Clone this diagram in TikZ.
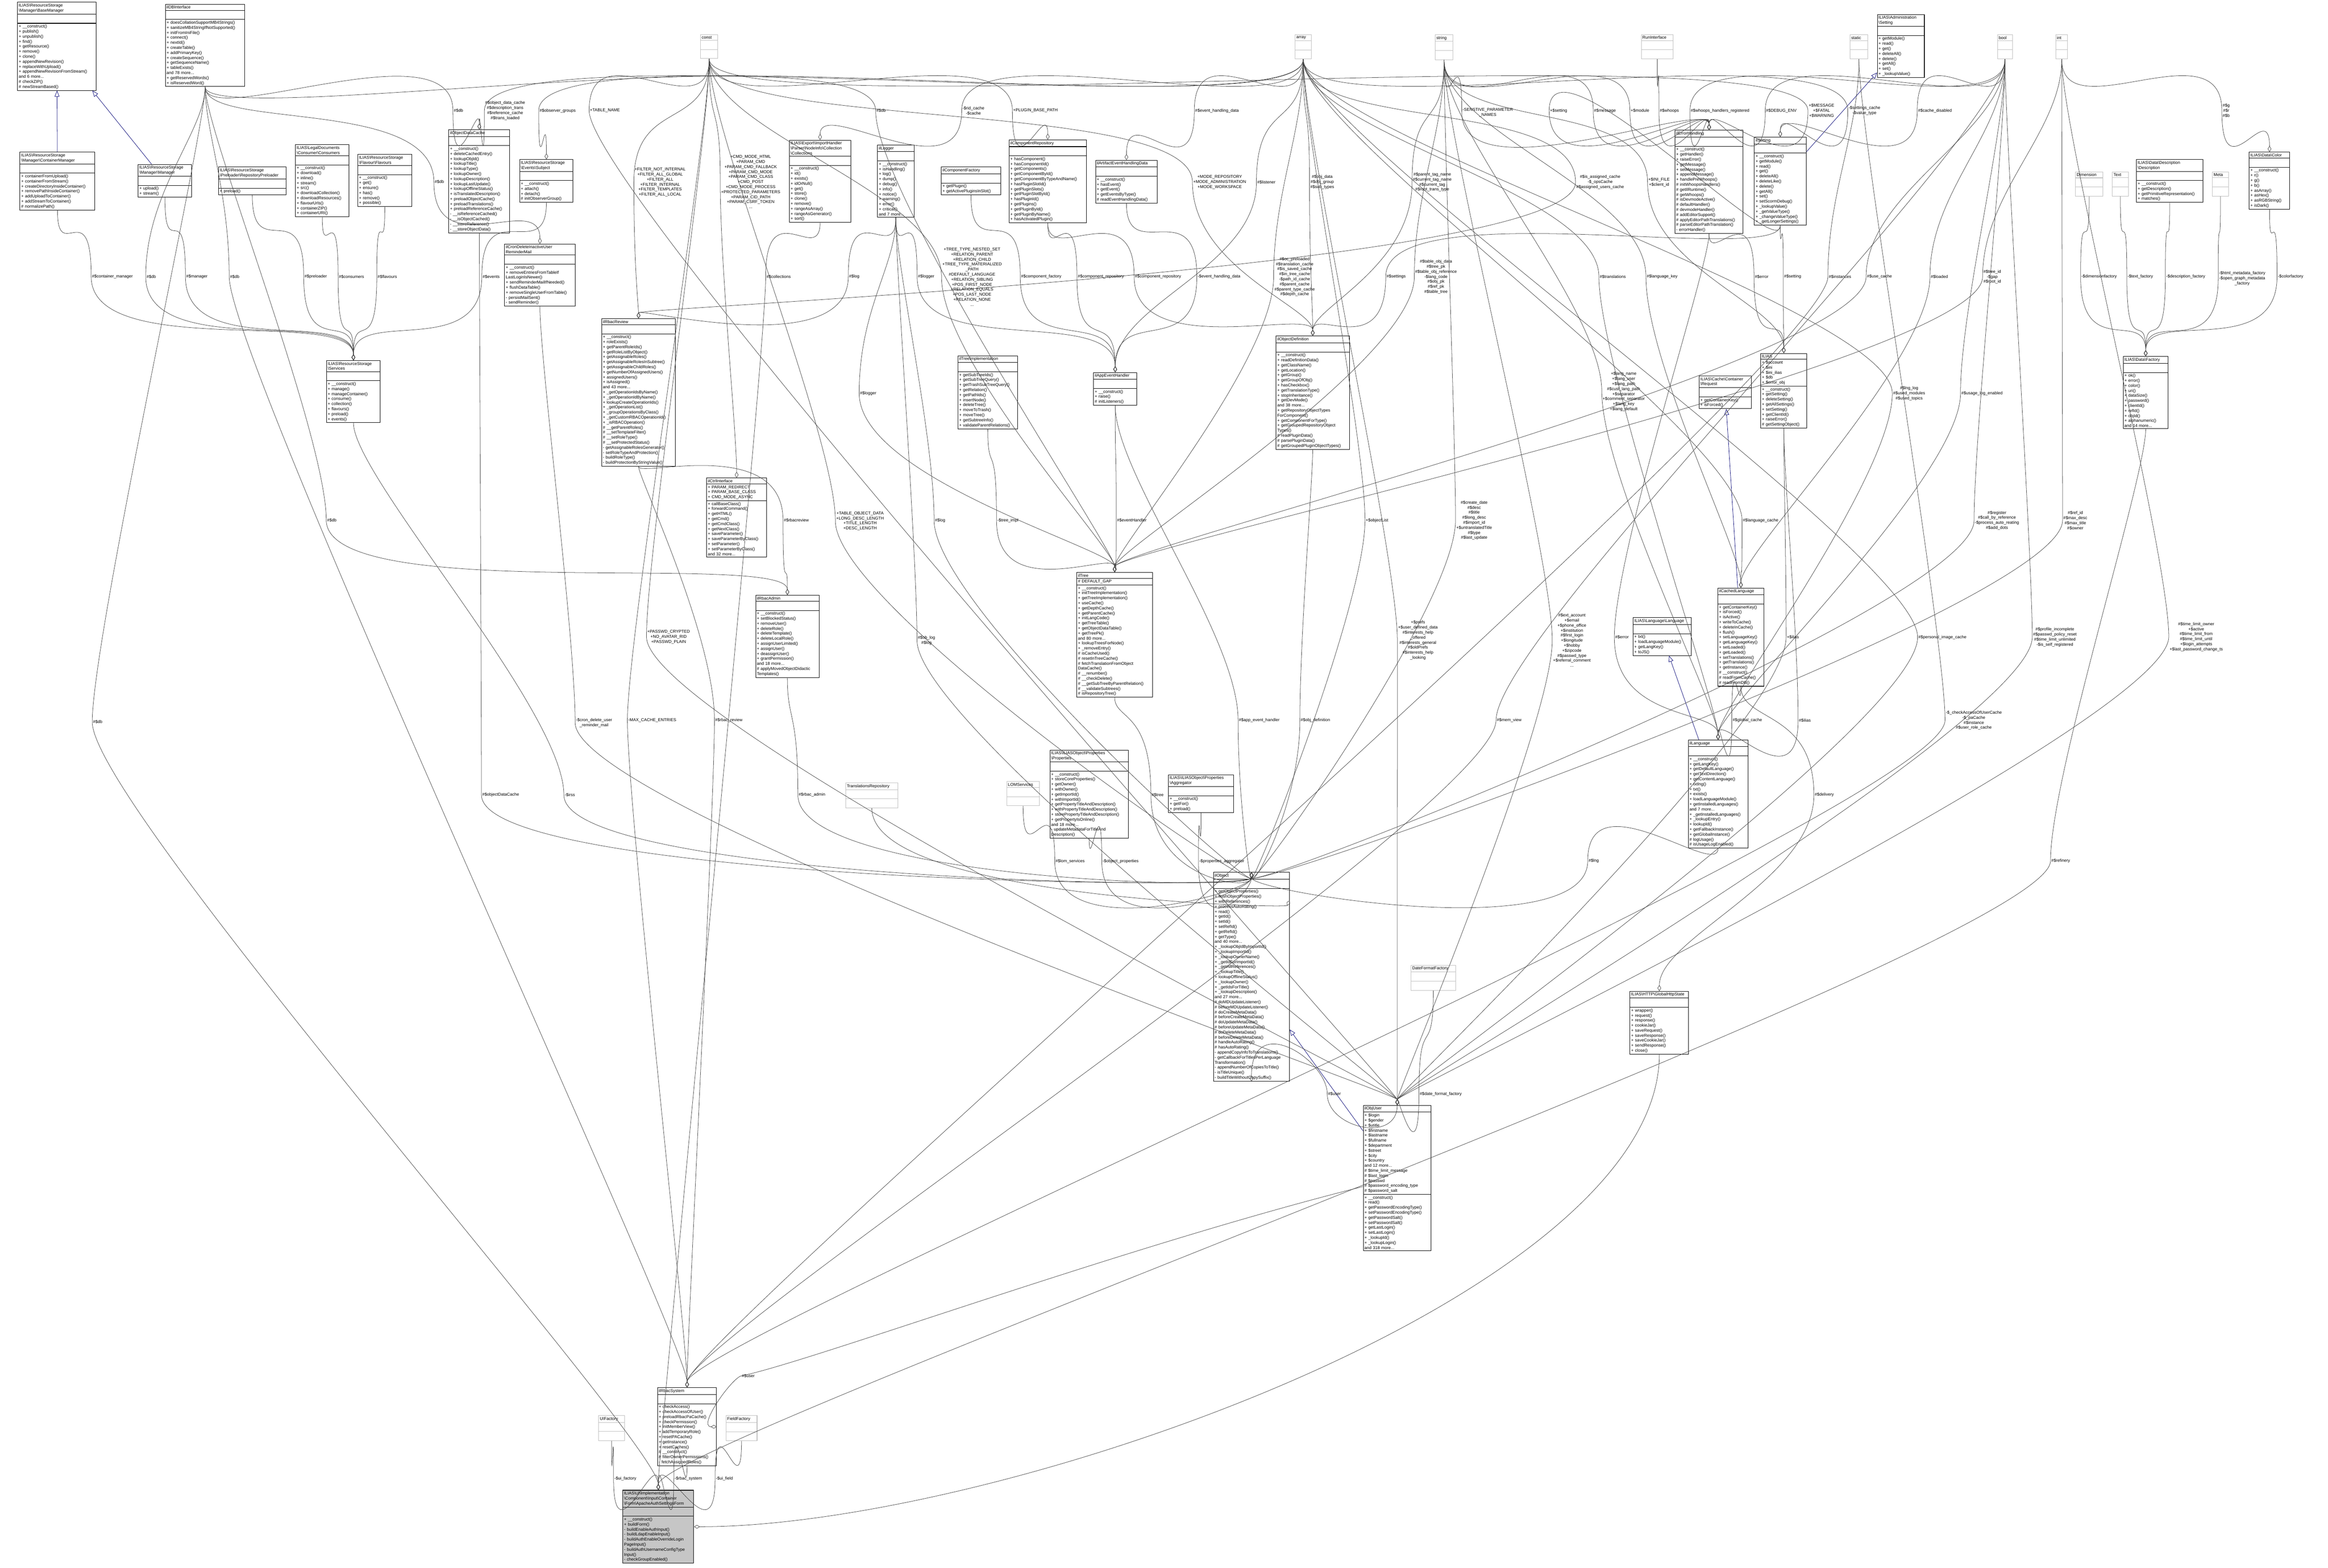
\documentclass[tikz,border=0pt]{standalone}
\usepackage{fontspec}
\setmainfont{Liberation Sans}
\usetikzlibrary{shapes.multipart,arrows.meta}

\newcommand{\bs}{\textbackslash{}}
% aggregation: label node, then a curve from the member type through the label to the owner
\newcommand{\conn}[6]{%
  \node[lbl] (#3) at (#4,#5) {#6};
  \draw[agg] (#1) .. controls +(0,-2.5) and +(0,2.5) .. (#3.west)
    .. controls +(0,-2.5) and +(0,2.5) .. (#2);}
\newcommand{\connup}[6]{%
  \node[lbl] (#3) at (#4,#5) {#6};
  \draw[agg] (#1) .. controls +(0,1) and +(0,-1) .. (#3.west)
    .. controls +(0,1) and +(0,-1) .. (#2);}

\tikzset{
  cls/.style={rectangle split, rectangle split parts=3, draw, anchor=north west,
    font=\fontsize{3.5}{4.2}\selectfont, inner sep=1pt,
    rectangle split part align={center,left,left},
    rectangle split empty part height=3pt},
  ghost/.style={cls, draw=gray!50, rectangle split empty part height=5pt},
  focus/.style={cls, fill=gray!45},
  lbl/.style={font=\fontsize{3.5}{4.2}\selectfont, align=center, inner sep=0.5pt},
  agg/.style={draw=black!75, line width=0.3pt, -{Diamond[open,length=5pt,width=3pt]}},
  inh/.style={draw=blue!45!black, line width=0.3pt, -{Triangle[open,length=5pt,width=4pt]}}
}

\begin{document}
\begin{tikzpicture}
  \useasboundingbox (0,0) rectangle (68.35,-46.04);

  % resource storage
  \node[cls, text width=2.23cm] (basemgr) at (0.51,-0.06) {ILIAS\bs ResourceStorage\\\bs Manager\bs BaseManager
    \nodepart{three} + \_\_construct()\\+ publish()\\+ unpublish()\\+ find()\\+ getResource()\\+ remove()\\+ clone()\\+ appendNewRevision()\\+ replaceWithUpload()\\+ appendNewRevisionFromStream()\\and 6 more...\\\# checkZIP()\\\# newStreamBased()};
  \node[cls, text width=2.26cm] (dbi) at (4.85,-0.12) {ilDBInterface
    \nodepart{three} + doesCollationSupportMB4Strings()\\+ sanitizeMB4StringIfNotSupported()\\+ initFromIniFile()\\+ connect()\\+ nextId()\\+ createTable()\\+ addPrimaryKey()\\+ createSequence()\\+ getSequenceName()\\+ tableExists()\\and 78 more...\\+ getReservedWords()\\+ isReservedWord()};
  \node[cls, text width=2.13cm] (contmgr) at (0.58,-4.46) {ILIAS\bs ResourceStorage\\\bs Manager\bs ContainerManager
    \nodepart{three} + containerFromUpload()\\+ containerFromStream()\\+ createDirectoryInsideContainer()\\+ removePathInsideContainer()\\+ addUploadToContainer()\\+ addStreamToContainer()\\\# normalizePath()};
  \node[cls, text width=1.5cm] (mgr) at (4.05,-4.82) {ILIAS\bs ResourceStorage\\\bs Manager\bs Manager
    \nodepart{three} + upload()\\+ stream()};
  \node[cls, text width=1.91cm] (preloader) at (6.41,-4.90) {ILIAS\bs ResourceStorage\\\bs Preloader\bs RepositoryPreloader
    \nodepart{three} + preload()};
  \node[cls, text width=1.5cm] (consumers) at (8.67,-4.24) {ILIAS\bs LegalDocuments\\\bs Consumer\bs Consumers
    \nodepart{three} + \_\_construct()\\+ download()\\+ inline()\\+ stream()\\+ src()\\+ downloadCollection()\\+ downloadResources()\\+ flavourUrls()\\+ containerZIP()\\+ containerURI()};
  \node[cls, text width=1.51cm] (flavours) at (10.50,-4.53) {ILIAS\bs ResourceStorage\\\bs Flavour\bs Flavours
    \nodepart{three} + \_\_construct()\\+ get()\\+ ensure()\\+ has()\\+ remove()\\+ possible()};
  \node[cls, text width=1.72cm] (objcache) at (13.17,-3.80) {ilObjectDataCache
    \nodepart{three} + \_\_construct()\\+ deleteCachedEntry()\\+ lookupObjId()\\+ lookupTitle()\\+ lookupType()\\+ lookupOwner()\\+ lookupDescription()\\+ lookupLastUpdate()\\+ lookupOfflineStatus()\\+ isTranslatedDescription()\\+ preloadObjectCache()\\+ preloadTranslations()\\+ preloadReferenceCache()\\- \_\_isReferenceCached()\\- \_\_isObjectCached()\\- \_\_storeReference()\\- \_\_storeObjectData()};
  \node[cls, text width=1.5cm] (subject) at (15.25,-4.68) {ILIAS\bs ResourceStorage\\\bs Events\bs Subject
    \nodepart{three} + \_\_construct()\\+ attach()\\+ detach()\\\# initObserverGroup()};
  \node[cls, text width=2.0cm] (cronmail) at (14.81,-7.16) {ilCronDeleteInactiveUser\\ReminderMail
    \nodepart{three} + \_\_construct()\\+ removeEntriesFromTableIf\\LastLoginIsNewer()\\+ sendReminderMailIfNeeded()\\+ flushDataTable()\\+ removeSingleUserFromTable()\\- persistMailSent()\\- sendReminder()};
  \node[cls, text width=1.51cm] (services) at (9.58,-10.58) {ILIAS\bs ResourceStorage\\\bs Services
    \nodepart{three} + \_\_construct()\\+ manage()\\+ manageContainer()\\+ consume()\\+ collection()\\+ flavours()\\+ preload()\\+ events()};

  % plain types
  \node[ghost, text width=0.44cm] (const) at (20.56,-1.01) {const};
  \node[ghost, text width=0.40cm] (array) at (38.02,-1.01) {array};
  \node[ghost, text width=0.45cm] (string) at (42.13,-1.01) {string};
  \node[ghost, text width=0.87cm] (runif) at (48.18,-1.01) {RunInterface};
  \node[ghost, text width=0.45cm] (static) at (54.31,-1.01) {static};
  \node[ghost, text width=0.37cm] (bool) at (58.64,-1.01) {bool};
  \node[ghost, text width=0.28cm] (int) at (60.35,-1.01) {int};
  \node[ghost, text width=0.73cm] (dimension) at (60.93,-5.04) {Dimension};
  \node[ghost, text width=0.40cm] (text) at (62.01,-5.04) {Text};
  \node[ghost, text width=0.40cm] (meta) at (64.95,-5.04) {Meta};
  \node[ghost, text width=1.47cm] (translrepo) at (24.82,-22.98) {TranslationsRepository};
  \node[ghost, text width=0.89cm] (lomservices) at (29.55,-22.94) {LOMServices};
  \node[ghost, text width=1.24cm] (datefmt) at (41.42,-28.34) {DateFormatFactory};
  \node[ghost, text width=0.69cm] (uifactory) at (17.57,-41.56) {UIFactory};
  \node[ghost, text width=0.84cm] (fieldfactory) at (21.31,-41.56) {FieldFactory};

  % middle column
  \node[cls, text width=1.73cm] (collections) at (23.17,-4.11) {ILIAS\bs Export\bs ImportHandler\\\bs Parser\bs NodeInfo\bs Collection\\\bs Collections
    \nodepart{three} + \_\_construct()\\+ id()\\+ exists()\\+ idOrNull()\\+ get()\\+ store()\\+ clone()\\+ remove()\\+ rangeAsArray()\\+ rangeAsGenerator()\\+ sort()};
  \node[cls, text width=1.0cm] (logger) at (25.76,-4.25) {ilLogger
    \nodepart{three} + \_\_construct()\\+ isHandling()\\+ log()\\+ dump()\\+ debug()\\+ info()\\+ notice()\\+ warning()\\+ error()\\+ critical()\\and 7 more...};
  \node[cls, text width=1.67cm] (compfactory) at (27.63,-4.90) {ilComponentFactory
    \nodepart{three} + getPlugin()\\+ getActivePluginsInSlot()};
  \node[cls, text width=2.2cm] (comprepo) at (29.62,-4.10) {ilComponentRepository
    \nodepart{three} + hasComponent()\\+ hasComponentId()\\+ getComponents()\\+ getComponentById()\\+ getComponentByTypeAndName()\\+ hasPluginSlotId()\\+ getPluginSlots()\\+ getPluginSlotById()\\+ hasPluginId()\\+ getPlugins()\\+ getPluginById()\\+ getPluginByName()\\+ hasActivatedPlugin()};
  \node[cls, text width=1.74cm] (artifact) at (32.16,-4.70) {ilArtifactEventHandlingData
    \nodepart{three} + \_\_construct()\\+ hasEvent()\\+ getEvent()\\+ getEventsByType()\\\# readEventHandlingData()};
  \node[cls, text width=2.09cm] (rbacreview) at (17.66,-9.35) {ilRbacReview
    \nodepart{three} + \_\_construct()\\+ roleExists()\\+ getParentRoleIds()\\+ getRoleListByObject()\\+ getAssignableRoles()\\+ getAssignableRolesInSubtree()\\+ getAssignableChildRoles()\\+ getNumberOfAssignedUsers()\\+ assignedUsers()\\+ isAssigned()\\and 43 more...\\+ \_getOperationIdsByName()\\+ \_getOperationIdByName()\\+ lookupCreateOperationIds()\\+ \_getOperationList()\\+ \_groupOperationsByClass()\\+ \_getCustomRBACOperationId()\\+ \_isRBACOperation()\\\# \_\_getParentRoles()\\\# \_\_setTemplateFilter()\\\# \_\_setRoleType()\\\# \_\_setProtectedStatus()\\- getAssignableRolesGenerator()\\- setRoleTypeAndProtection()\\- buildRoleType()\\- buildProtectionByStringValue()};
  \node[cls, text width=1.68cm] (treeimpl) at (28.12,-10.44) {ilTreeImplementation
    \nodepart{three} + getSubTreeIds()\\+ getSubTreeQuery()\\+ getTrashSubTreeQuery()\\+ getRelation()\\+ getPathIds()\\+ insertNode()\\+ deleteTree()\\+ moveToTrash()\\+ moveTree()\\+ getSubtreeInfo()\\+ validateParentRelations()};
  \node[cls, text width=1.2cm] (appevent) at (32.10,-10.93) {ilAppEventHandler
    \nodepart{three} + \_\_construct()\\+ raise()\\\# initListeners()};
  \node[cls, text width=1.69cm] (ctrl) at (20.74,-14.03) {ilCtrlInterface
    \nodepart{two} + PARAM\_REDIRECT\\+ PARAM\_BASE\_CLASS\\+ CMD\_MODE\_ASYNC
    \nodepart{three} + callBaseClass()\\+ forwardCommand()\\+ getHTML()\\+ getCmd()\\+ getCmdClass()\\+ getNextClass()\\+ saveParameter()\\+ saveParameterByClass()\\+ setParameter()\\+ setParameterByClass()\\and 32 more...};
  \node[cls, text width=1.79cm] (rbacadmin) at (22.18,-17.47) {ilRbacAdmin
    \nodepart{three} + \_\_construct()\\+ setBlockedStatus()\\+ removeUser()\\+ deleteRole()\\+ deleteTemplate()\\+ deleteLocalRole()\\+ assignUserLimited()\\+ assignUser()\\+ deassignUser()\\+ grantPermission()\\and 18 more...\\\# applyMovedObjectDidactic\\Templates()};
  \node[cls, text width=2.08cm] (objdef) at (37.46,-9.86) {ilObjectDefinition
    \nodepart{three} + \_\_construct()\\+ readDefinitionData()\\+ getClassName()\\+ getLocation()\\+ getGroup()\\+ getGroupOfObj()\\+ hasCheckbox()\\+ getTranslationType()\\+ stopInheritance()\\+ getDevMode()\\and 38 more...\\+ getRepositoryObjectTypes\\ForComponent()\\+ getComponentForType()\\+ getGroupedRepositoryObject\\Types()\\\# readPluginData()\\\# parsePluginData()\\\# getGroupedPluginObjectTypes()};
  \node[cls, text width=2.15cm] (tree) at (31.61,-16.80) {ilTree
    \nodepart{two} \# DEFAULT\_GAP
    \nodepart{three} + \_\_construct()\\+ initTreeImplementation()\\+ getTreeImplementation()\\+ useCache()\\+ getDepthCache()\\+ getParentCache()\\+ initLangCode()\\+ getTreeTable()\\+ getObjectDataTable()\\+ getTreePk()\\and 80 more...\\+ lookupTreesForNode()\\+ \_removeEntry()\\\# isCacheUsed()\\\# resetInTreeCache()\\\# fetchTranslationFromObject\\DataCache()\\\# \_\_renumber()\\\# \_\_checkDelete()\\\# \_\_getSubTreeByParentRelation()\\\# \_\_validateSubtrees()\\\# isRepositoryTree()};
  \node[cls, text width=2.23cm] (props) at (30.82,-22.02) {ILIAS\bs ILIASObject\bs Properties\\\bs Properties
    \nodepart{three} + \_\_construct()\\+ storeCoreProperties()\\+ getOwner()\\+ withOwner()\\+ getImportId()\\+ withImportId()\\+ getPropertyTitleAndDescription()\\+ withPropertyTitleAndDescription()\\+ storePropertyTitleAndDescription()\\+ getPropertyIsOnline()\\and 18 more...\\- updateMetadataForTitleAnd\\Description()};
  \node[cls, text width=1.84cm] (aggregator) at (34.30,-22.74) {ILIAS\bs ILIASObject\bs Properties\\\bs Aggregator
    \nodepart{three} + \_\_construct()\\+ getFor()\\+ preload()};
  \node[cls, text width=2.16cm] (ilobject) at (35.62,-25.61) {ilObject
    \nodepart{three} + getObjectProperties()\\+ flushObjectProperties()\\+ withReferences()\\+ processAutoRating()\\+ read()\\+ getId()\\+ setId()\\+ setRefId()\\+ getRefId()\\+ getType()\\and 40 more...\\+ \_lookupObjIdByImportId()\\+ \_lookupImportId()\\+ \_lookupOwnerName()\\+ \_getIdForImportId()\\+ \_getAllReferences()\\+ \_lookupTitle()\\+ lookupOfflineStatus()\\+ \_lookupOwner()\\+ \_getIdsForTitle()\\+ \_lookupDescription()\\and 27 more...\\\# doMDUpdateListener()\\\# beforeMDUpdateListener()\\\# doCreateMetaData()\\\# beforeCreateMetaData()\\\# doUpdateMetaData()\\\# beforeUpdateMetaData()\\\# doDeleteMetaData()\\\# beforeDeleteMetaData()\\\# handleAutoRating()\\\# hasAutoRating()\\- appendCopyInfoToTranslations()\\- getCallbackForTitlesPerLanguage\\Transformation()\\- appendNumberOfCopiesToTitle()\\- isTitleUnique()\\- buildTitleWithoutCopySuffix()};
  \node[cls, text width=1.92cm] (objuser) at (40.02,-32.45) {ilObjUser
    \nodepart{two} + \$login\\+ \$gender\\+ \$utitle\\+ \$firstname\\+ \$lastname\\+ \$fullname\\+ \$department\\+ \$street\\+ \$city\\+ \$country\\and 12 more...\\\# \$time\_limit\_message\\\# \$last\_login\\\# \$passwd\\\# \$password\_encoding\_type\\\# \$password\_salt
    \nodepart{three} + \_\_construct()\\+ read()\\+ getPasswordEncodingType()\\+ setPasswordEncodingType()\\+ getPasswordSalt()\\+ setPasswordSalt()\\+ getLastLogin()\\+ setLastLogin()\\+ \_lookupId()\\+ \_lookupLogin()\\and 318 more...};

  % right part
  \node[cls, text width=1.93cm] (errhandling) at (49.17,-3.82) {ilErrorHandling
    \nodepart{three} + \_\_construct()\\+ getHandler()\\+ raiseError()\\+ getMessage()\\+ setMessage()\\+ appendMessage()\\+ handlePreWhoops()\\\# initWhoopsHandlers()\\\# getIlRuntime()\\\# getWhoops()\\\# isDevmodeActive()\\\# defaultHandler()\\\# devmodeHandler()\\\# addEditorSupport()\\\# applyEditorPathTranslations()\\\# parseEditorPathTranslation()\\- errorHandler()};
  \node[cls, text width=1.46cm] (cachereq) at (49.88,-11.03) {ILIAS\bs Cache\bs Container\\\bs Request
    \nodepart{three} + getContainerKey()\\+ isForced()};
  \node[cls, text width=1.31cm] (adminsetting) at (55.11,-0.42) {ILIAS\bs Administration\\\bs Setting
    \nodepart{three} + getModule()\\+ read()\\+ get()\\+ deleteAll()\\+ delete()\\+ getAll()\\+ set()\\+ \_lookupValue()};
  \node[cls, text width=1.45cm] (ilsetting) at (51.50,-4.02) {ilSetting
    \nodepart{three} + \_\_construct()\\+ getModule()\\+ read()\\+ get()\\+ deleteAll()\\+ deleteLike()\\+ delete()\\+ getAll()\\+ set()\\+ setScormDebug()\\+ \_lookupValue()\\+ \_getValueType()\\+ \_changeValueType()\\+ \_getLongerSettings()};
  \node[cls, text width=1.28cm] (ilias) at (51.69,-10.37) {ILIAS
    \nodepart{two} + \$account\\+ \$ini\\+ \$ini\_ilias\\+ \$db\\+ \$error\_obj
    \nodepart{three} + \_\_construct()\\+ getSetting()\\+ deleteSetting()\\+ getAllSettings()\\+ setSetting()\\+ getClientId()\\+ raiseError()\\\# getSettingObject()};
  \node[cls, text width=1.88cm] (description) at (62.72,-4.68) {ILIAS\bs Data\bs Description\\\bs Description
    \nodepart{three} + \_\_construct()\\+ getDescription()\\+ getPrimitiveRepresentation()\\+ matches()};
  \node[cls, text width=1.12cm] (color) at (66.03,-4.46) {ILIAS\bs Data\bs Color
    \nodepart{three} + \_\_construct()\\+ r()\\+ g()\\+ b()\\+ asArray()\\+ asHex()\\+ asRGBString()\\+ isDark()};
  \node[cls, text width=1.25cm] (datafactory) at (62.33,-10.46) {ILIAS\bs Data\bs Factory
    \nodepart{three} + ok()\\+ error()\\+ color()\\+ uri()\\+ dataSize()\\+ password()\\+ clientId()\\+ refId()\\+ objId()\\+ alphanumeric()\\and 14 more...};
  \node[cls, text width=1.28cm] (cachedlang) at (50.43,-17.26) {ilCachedLanguage
    \nodepart{three} + getContainerKey()\\+ isForced()\\+ isActive()\\+ writeToCache()\\+ deleteInCache()\\+ flush()\\+ setLanguageKey()\\+ getLanguageKey()\\+ setLoaded()\\+ getLoaded()\\+ setTranslations()\\+ getTranslations()\\+ getInstance()\\\# \_\_construct()\\\# readFromCache()\\\# readFromDB()};
  \node[cls, text width=1.64cm] (langlang) at (47.94,-18.13) {ILIAS\bs Language\bs Language
    \nodepart{three} + txt()\\+ loadLanguageModule()\\+ getLangKey()\\+ toJS()};
  \node[cls, text width=1.68cm] (language) at (49.56,-21.72) {ilLanguage
    \nodepart{three} + \_\_construct()\\+ getLangKey()\\+ getDefaultLanguage()\\+ getTextDirection()\\+ getContentLanguage()\\+ txtlng()\\+ txt()\\+ exists()\\+ loadLanguageModule()\\+ getInstalledLanguages()\\and 7 more...\\+ \_getInstalledLanguages()\\+ \_lookupEntry()\\+ lookupId()\\+ getFallbackInstance()\\+ getGlobalInstance()\\\# logUsage()\\\# isUsageLogEnabled()};
  \node[cls, text width=1.65cm] (httpstate) at (47.85,-29.10) {ILIAS\bs HTTP\bs GlobalHttpState
    \nodepart{three} + wrapper()\\+ request()\\+ response()\\+ cookieJar()\\+ saveRequest()\\+ saveResponse()\\+ saveCookieJar()\\+ sendResponse()\\+ close()};

  % bottom
  \node[cls, text width=1.66cm] (rbacsystem) at (19.30,-40.74) {ilRbacSystem
    \nodepart{three} + checkAccess()\\+ checkAccessOfUser()\\+ preloadRbacPaCache()\\+ checkPermission()\\+ initMemberView()\\+ addTemporaryRole()\\+ resetPACache()\\+ getInstance()\\+ resetCaches()\\\# \_\_construct()\\\# filterOwnerPermissions()\\- fetchAssignedRoles()};
  \node[focus, text width=2.01cm] (form) at (18.28,-43.75) {ILIAS\bs UI\bs Implementation\\\bs Component\bs Input\bs Container\\\bs Form\bs ApacheAuthSettingsForm
    \nodepart{three} + \_\_construct()\\+ buildForm()\\- buildEnableAuthInput()\\- buildLdapEnableInput()\\- buildAuthEnableOverrideLogin\\PageInput()\\- buildAuthUsernameConfigType\\Input()\\- checkGroupEnabled()};

  % inheritance
  \draw[inh] (contmgr) -- (basemgr);
  \draw[inh] (mgr) -- (basemgr);
  \draw[inh] (ilsetting) -- (adminsetting);
  \draw[inh] (cachedlang) -- (cachereq);
  \draw[inh] (language) -- (langlang);
  \draw[inh] (objuser) -- (ilobject);

  % members, upper band
  \conn{contmgr}{services}{l1}{3.30}{-8.12}{\#\$container\_manager}
  \conn{dbi}{services}{l2}{4.44}{-8.12}{\#\$db}
  \conn{mgr}{services}{l3}{5.78}{-8.12}{\#\$manager}
  \conn{dbi}{rbacsystem}{l4}{6.89}{-8.12}{\#\$db}
  \conn{preloader}{services}{l5}{9.27}{-8.12}{\#\$preloader}
  \conn{consumers}{services}{l6}{10.32}{-8.12}{\#\$consumers}
  \conn{flavours}{services}{l7}{11.37}{-8.12}{\#\$flavours}
  \conn{subject}{services}{l8}{14.42}{-8.12}{\#\$events}
  \conn{dbi}{objcache}{l9}{13.46}{-3.25}{\#\$db}
  \conn{array}{objcache}{l10}{14.83}{-3.25}{\#\$object\_data\_cache\\\#\$description\_trans\\\#\$reference\_cache\\\#\$trans\_loaded}
  \conn{array}{subject}{l11}{16.37}{-3.25}{\#\$observer\_groups}
  \conn{dbi}{cronmail}{l12}{12.90}{-5.34}{\#\$db}
  \conn{const}{objuser}{l13}{17.76}{-3.25}{+TABLE\_NAME}
  \conn{const}{rbacreview}{l14}{19.38}{-5.35}{+FILTER\_NOT\_INTERNAL\\+FILTER\_ALL\_GLOBAL\\+FILTER\_ALL\\+FILTER\_INTERNAL\\+FILTER\_TEMPLATES\\+FILTER\_ALL\_LOCAL}
  \conn{const}{ctrl}{l15}{22.04}{-5.34}{+CMD\_MODE\_HTML\\+PARAM\_CMD\\+PARAM\_CMD\_FALLBACK\\+PARAM\_CMD\_MODE\\+PARAM\_CMD\_CLASS\\+CMD\_POST\\+CMD\_MODE\_PROCESS\\+PROTECTED\_PARAMETERS\\+PARAM\_CID\_PATH\\+PARAM\_CSRF\_TOKEN\\...}
  \conn{dbi}{tree}{l16}{25.87}{-3.25}{\#\$db}
  \conn{array}{collections}{l17}{28.58}{-3.25}{-\$rid\_cache\\-\$cache}
  \conn{const}{comprepo}{l18}{30.40}{-3.25}{+PLUGIN\_BASE\_PATH}
  \conn{array}{artifact}{l19}{35.73}{-3.25}{\#\$event\_handling\_data}
  \conn{string}{errhandling}{l20}{43.68}{-3.30}{-SENSTIVE\_PARAMETER\\\_NAMES}
  \conn{ilsetting}{errhandling}{l21}{45.76}{-3.25}{+\$setting}
  \conn{string}{errhandling}{l22}{47.12}{-3.25}{\#\$message}
  \conn{string}{errhandling}{l23}{48.15}{-3.25}{+\$module}
  \conn{runif}{errhandling}{l24}{49.01}{-3.25}{\#\$whoops}
  \conn{bool}{errhandling}{l25}{50.50}{-3.25}{\#\$whoops\_handlers\_registered}
  \conn{bool}{errhandling}{l26}{52.30}{-3.25}{\#\$DEBUG\_ENV}
  \conn{const}{errhandling}{l27}{53.48}{-3.25}{+\$MESSAGE\\+\$FATAL\\+\$WARNING}
  \conn{array}{ilsetting}{l28}{54.74}{-3.25}{-\$settings\_cache\\-\$value\_type}
  \conn{bool}{ilsetting}{l29}{56.81}{-3.25}{\#\$cache\_disabled}
  \conn{int}{color}{l30}{65.36}{-3.25}{\#\$g\\\#\$r\\\#\$b}

  % members, second band
  \conn{const}{objdef}{l31}{35.81}{-5.35}{+MODE\_REPOSITORY\\+MODE\_ADMINISTRATION\\+MODE\_WORKSPACE}
  \conn{array}{appevent}{l32}{37.18}{-5.35}{\#\$listener}
  \conn{array}{objdef}{l33}{38.82}{-5.35}{\#\$obj\_data\\\#\$obj\_group\\\#\$sub\_types}
  \conn{string}{objdef}{l34}{42.05}{-5.35}{\#\$parent\_tag\_name\\\#\$current\_tag\_name\\\#\$current\_tag\\\#\$root\_trans\_type}
  \conn{array}{rbacreview}{l35}{46.98}{-5.35}{\#\$is\_assigned\_cache\\-\$\_opsCache\\\#\$assigned\_users\_cache}
  \conn{string}{ilias}{l36}{48.71}{-5.35}{+\$INI\_FILE\\+\$client\_id}
  \conn{logger}{rbacreview}{l37}{25.08}{-8.12}{\#\$log}
  \conn{logger}{appevent}{l38}{27.19}{-8.12}{\#\$logger}
  \conn{collections}{form}{l39}{22.86}{-8.12}{\#\$collections}
  \conn{const}{tree}{l40}{28.54}{-8.13}{+TREE\_TYPE\_NESTED\_SET\\+RELATION\_PARENT\\+RELATION\_CHILD\\+TREE\_TYPE\_MATERIALIZED\\\_PATH\\\#DEFAULT\_LANGUAGE\\+RELATION\_SIBLING\\+POS\_FIRST\_NODE\\+RELATION\_EQUALS\\+POS\_LAST\_NODE\\+RELATION\_NONE\\...}
  \conn{compfactory}{appevent}{l41}{30.57}{-8.12}{\#\$component\_factory}
  \conn{comprepo}{appevent}{l42}{32.32}{-8.12}{\#\$component\_repository}
  \conn{comprepo}{objdef}{l43}{34.00}{-8.12}{\#\$component\_repository}
  \conn{artifact}{appevent}{l44}{35.79}{-8.12}{-\$event\_handling\_data}
  \conn{array}{tree}{l45}{38.01}{-8.13}{\#\$oc\_preloaded\\\#\$translation\_cache\\\#\$is\_saved\_cache\\\#\$in\_tree\_cache\\-\$path\_id\_cache\\\#\$parent\_cache\\\#\$parent\_type\_cache\\\#\$depth\_cache}
  \conn{ilsetting}{objdef}{l46}{40.99}{-8.12}{\#\$settings}
  \conn{string}{tree}{l47}{42.16}{-8.13}{\#\$table\_obj\_data\\\#\$tree\_pk\\\#\$table\_obj\_reference\\-\$lang\_code\\\#\$obj\_pk\\\#\$ref\_pk\\\#\$table\_tree}
  \conn{array}{language}{l48}{47.35}{-8.12}{\#\$translations}
  \conn{string}{cachedlang}{l49}{48.80}{-8.12}{\#\$language\_key}
  \conn{errhandling}{ilias}{l50}{51.72}{-8.12}{\#\$error}
  \conn{ilsetting}{ilias}{l51}{52.63}{-8.12}{\#\$setting}
  \conn{static}{rbacsystem}{l52}{54.02}{-8.12}{\#\$instances}
  \conn{bool}{tree}{l53}{55.18}{-8.12}{\#\$use\_cache}
  \conn{bool}{cachedlang}{l54}{56.94}{-8.12}{\#\$loaded}
  \conn{int}{tree}{l55}{58.49}{-8.13}{\#\$tree\_id\\-\$gap\\\#\$root\_id}
  \conn{dimension}{datafactory}{l56}{61.63}{-8.12}{-\$dimensionfactory}
  \conn{text}{datafactory}{l57}{62.84}{-8.12}{-\$text\_factory}
  \conn{description}{datafactory}{l58}{64.17}{-8.12}{-\$description\_factory}
  \conn{meta}{datafactory}{l59}{65.83}{-8.18}{-\$html\_metadata\_factory\\-\$open\_graph\_metadata\\\_factory}
  \conn{color}{datafactory}{l60}{67.25}{-8.12}{-\$colorfactory}

  % members, third band
  \conn{string}{language}{l61}{47.67}{-11.50}{+\$lang\_name\\+\$lang\_user\\+\$lang\_path\\\#\$cust\_lang\_path\\+\$separator\\+\$comment\_separator\\+\$lang\_key\\+\$lang\_default}
  \conn{logger}{tree}{l62}{25.49}{-11.55}{\#\$logger}
  \conn{array}{language}{l63}{56.05}{-11.55}{\#\$lng\_log\\\#\$used\_modules\\\#\$used\_topics}
  \conn{bool}{language}{l64}{58.19}{-11.55}{\#\$usage\_log\_enabled}
  \conn{treeimpl}{tree}{l65}{29.59}{-15.28}{-\$tree\_impl}
  \conn{appevent}{tree}{l66}{33.23}{-15.28}{\#\$eventHandler}
  \conn{rbacreview}{rbacadmin}{l67}{23.38}{-15.28}{\#\$rbacreview}
  \conn{const}{ilobject}{l68}{25.25}{-15.30}{+TABLE\_OBJECT\_DATA\\+LONG\_DESC\_LENGTH\\+TITLE\_LENGTH\\+DESC\_LENGTH}
  \conn{logger}{ilobject}{l69}{27.60}{-15.28}{\#\$log}
  \conn{array}{ilobject}{l70}{40.43}{-15.28}{+\$objectList}
  \conn{string}{ilobject}{l71}{43.28}{-15.28}{\#\$create\_date\\\#\$desc\\\#\$title\\\#\$long\_desc\\\#\$import\_id\\+\$untranslatedTitle\\\#\$type\\\#\$last\_update}
  \conn{array}{cachedlang}{l72}{51.69}{-15.28}{\#\$language\_cache}
  \conn{bool}{ilobject}{l73}{58.63}{-15.28}{\#\$register\\\#\$call\_by\_reference\\-\$process\_auto\_reating\\\#\$add\_dots}
  \conn{int}{ilobject}{l74}{60.93}{-15.28}{\#\$ref\_id\\\#\$max\_desc\\\#\$max\_title\\\#\$owner}
  \conn{const}{objuser}{l75}{19.63}{-18.70}{+PASSWD\_CRYPTED\\+NO\_AVATAR\_RID\\+PASSWD\_PLAIN}
  \conn{logger}{objuser}{l76}{27.20}{-18.80}{\#\$ob\_log\\\#\$log}
  \conn{array}{objuser}{l77}{41.63}{-18.80}{+\$prefs\\+\$user\_defined\_data\\\#\$interests\_help\\\_offered\\\#\$interests\_general\\\#\$oldPrefs\\\#\$interests\_help\\\_looking}
  \conn{string}{objuser}{l78}{46.15}{-18.80}{\#\$ext\_account\\+\$email\\+\$phone\_office\\+\$institution\\\#\$first\_login\\+\$longitude\\+\$hobby\\+\$zipcode\\\#\$passwd\_type\\+\$referral\_comment\\...}
  \conn{errhandling}{language}{l79}{47.62}{-18.71}{\#\$error}
  \conn{ilias}{objuser}{l80}{52.64}{-18.71}{+\$ilias}
  \conn{array}{objuser}{l81}{57.03}{-18.71}{\#\$personal\_image\_cache}
  \conn{bool}{objuser}{l82}{60.33}{-18.71}{\#\$profile\_incomplete\\\#\$passwd\_policy\_reset\\\#\$time\_limit\_unlimited\\-\$is\_self\_registered}
  \conn{int}{objuser}{l83}{64.48}{-18.70}{\#\$time\_limit\_owner\\+\$active\\\#\$time\_limit\_from\\\#\$time\_limit\_until\\+\$login\_attempts\\+\$last\_password\_change\_ts}

  % members, lower band
  \conn{cronmail}{objuser}{l84}{17.44}{-21.22}{-\$cron\_delete\_user\\\_reminder\_mail}
  \conn{const}{rbacsystem}{l85}{19.15}{-21.15}{-MAX\_CACHE\_ENTRIES}
  \conn{rbacreview}{rbacsystem}{l86}{21.40}{-21.15}{\#\$rbac\_review}
  \conn{appevent}{ilobject}{l87}{36.97}{-21.15}{\#\$app\_event\_handler}
  \conn{objdef}{ilobject}{l88}{38.62}{-21.15}{\#\$obj\_definition}
  \conn{bool}{rbacsystem}{l89}{44.31}{-21.15}{\#\$mem\_view}
  \conn{cachedlang}{language}{l90}{51.30}{-21.15}{\#\$global\_cache}
  \conn{ilias}{language}{l91}{52.99}{-21.15}{\#\$ilias}
  \conn{static}{rbacsystem}{l92}{57.95}{-21.15}{-\$\_checkAccessOfUserCache\\-\$\_paCache\\\#\$instance\\\#\$user\_role\_cache}
  \conn{dbi}{rbacadmin}{l93}{9.74}{-15.27}{\#\$db}
  \conn{objcache}{ilobject}{l94}{14.70}{-23.34}{\#\$objectDataCache}
  \conn{services}{ilobject}{l95}{16.73}{-23.34}{-\$irss}
  \conn{rbacadmin}{ilobject}{l96}{23.84}{-23.34}{\#\$rbac\_admin}
  \conn{tree}{ilobject}{l97}{33.99}{-23.34}{\#\$tree}
  \conn{cachedlang}{httpstate}{l98}{53.56}{-23.34}{\#\$delivery}
  \conn{lomservices}{ilobject}{l99}{31.42}{-25.29}{\#\$lom\_services}
  \conn{props}{ilobject}{l100}{32.90}{-25.29}{-\$object\_properties}
  \conn{aggregator}{ilobject}{l101}{35.87}{-25.29}{-\$properties\_aggregator}
  \conn{language}{ilobject}{l102}{46.79}{-25.28}{\#\$lng}
  \conn{datafactory}{form}{l103}{60.50}{-25.28}{\#\$refinery}
  \draw[agg] (translrepo) .. controls +(0,-3) and +(1,2) .. (ilobject);
  \draw[agg] (httpstate) .. controls +(0,-8) and +(10,0) .. (form);
  \connup{objuser}{ilobject}{l104}{39.18}{-32.12}{\#\$user}
  \conn{datefmt}{objuser}{l105}{42.30}{-32.12}{\#\$date\_format\_factory}
  \conn{dbi}{form}{l106}{2.87}{-21.20}{\#\$db}
  \node[lbl] (l107) at (21.97,-40.40) {\#\$user};
  \draw[agg] (objuser) .. controls +(-8,-2) and +(2,0.4) .. (l107.west) .. controls +(-0.3,-0.1) and +(0.3,0) .. (rbacsystem);
  \conn{uifactory}{form}{l108}{18.36}{-43.42}{-\$ui\_factory}
  \conn{rbacsystem}{form}{l109}{20.21}{-43.42}{-\$rbac\_system}
  \conn{fieldfactory}{form}{l110}{21.27}{-43.42}{-\$ui\_field}
\end{tikzpicture}
\end{document}
